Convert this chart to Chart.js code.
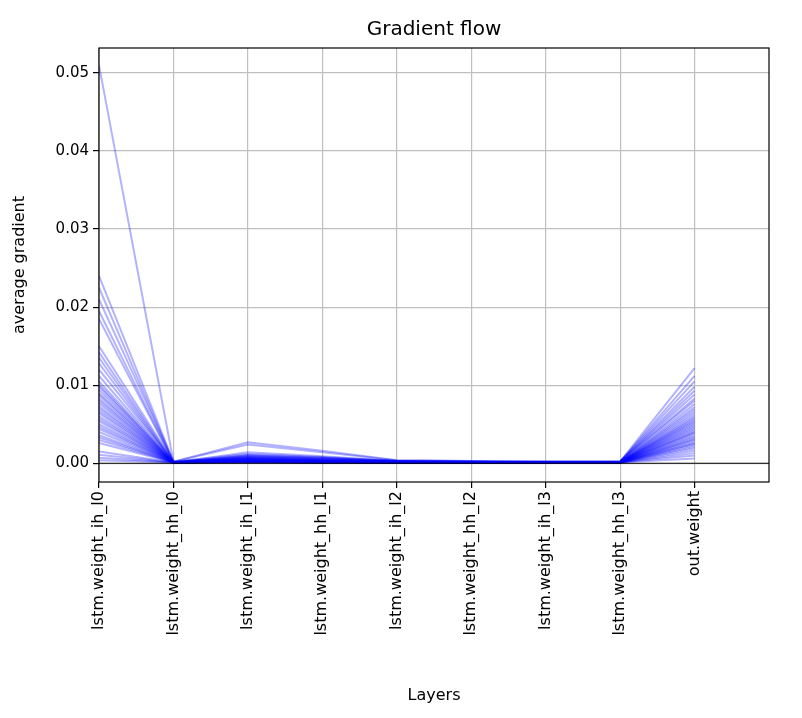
<!DOCTYPE html>
<html><head><meta charset="utf-8">
<script src="https://cdn.jsdelivr.net/npm/chart.js@4/dist/chart.umd.min.js"></script>
<style>html,body{margin:0;padding:0;background:#fff}#wrap{width:802px;height:718px}</style>
</head><body><div id="wrap"><canvas id="c"></canvas></div>
<script>
const layers = ["lstm.weight_ih_l0","lstm.weight_hh_l0","lstm.weight_ih_l1","lstm.weight_hh_l1","lstm.weight_ih_l2","lstm.weight_hh_l2","lstm.weight_ih_l3","lstm.weight_hh_l3","out.weight"];
const yTicks = [0.00,0.01,0.02,0.03,0.04,0.05];
const gIhL0 = [0.051,0.024,0.0225,0.021,0.0195,0.0185,0.015,0.0142,0.0135,0.0128,0.012,0.0112,0.0105,0.0101,0.0098,0.0094,0.009,0.0087,0.0083,0.008,0.0077,0.0073,0.007,0.0067,0.0064,0.006,0.0057,0.0054,0.005,0.0047,0.0044,0.004,0.0036,0.0033,0.003,0.0026,0.0015,0.0011,0.0007,0.0004];
const gHhL0 = [0.0002,0.0002,0.0001,0.0002,0.0001,0.0001,0.0002,0.0001,0.0001,0.0001,0.0002,0.0001,0.0001,0.0001,0.0001,0.0001,0.0001,0.0001,0.0001,0.0001,0.0001,0.0001,0.0001,0.0001,0.0001,0.0001,0.0001,0.0001,0.0001,0.0001,0.0001,0.0001,0.0001,0.0001,0.0001,0.0001,0.0001,0.0001,0.0001,0.0001];
const gIhL1 = [0.0027,0.0024,0.0014,0.0012,0.0011,0.001,0.0009,0.0009,0.0008,0.0008,0.0007,0.0007,0.0006,0.0006,0.0006,0.0005,0.0005,0.0005,0.0005,0.0004,0.0004,0.0004,0.0004,0.0004,0.0003,0.0003,0.0003,0.0003,0.0003,0.0003,0.0002,0.0002,0.0002,0.0002,0.0002,0.0002,0.0002,0.0001,0.0001,0.0001];
const gHhL1 = [0.0016,0.0014,0.0009,0.0008,0.0007,0.0007,0.0006,0.0006,0.0005,0.0005,0.0005,0.0004,0.0004,0.0004,0.0004,0.0003,0.0003,0.0003,0.0003,0.0003,0.0003,0.0003,0.0002,0.0002,0.0002,0.0002,0.0002,0.0002,0.0002,0.0002,0.0002,0.0001,0.0001,0.0001,0.0001,0.0001,0.0001,0.0001,0.0001,0.0001];
const gIhL2 = [0.0004,0.0004,0.0003,0.0003,0.0003,0.0003,0.0003,0.0002,0.0002,0.0002,0.0002,0.0002,0.0002,0.0002,0.0002,0.0002,0.0002,0.0002,0.0002,0.0001,0.0001,0.0001,0.0001,0.0001,0.0001,0.0001,0.0001,0.0001,0.0001,0.0001,0.0001,0.0001,0.0001,0.0001,0.0001,0.0001,0.0001,0.0001,0.0001,0.0001];
const gHhL2 = [0.0003,0.0003,0.0002,0.0002,0.0002,0.0002,0.0002,0.0002,0.0002,0.0002,0.0001,0.0001,0.0001,0.0001,0.0001,0.0001,0.0001,0.0001,0.0001,0.0001,0.0001,0.0001,0.0001,0.0001,0.0001,0.0001,0.0001,0.0001,0.0001,0.0001,0.0001,0.0001,0.0001,0.0001,0.0001,0.0001,0.0001,0.0001,0.0001,0.0001];
const gIhL3 = [0.0002,0.0002,0.0002,0.0002,0.0002,0.0002,0.0001,0.0001,0.0001,0.0001,0.0001,0.0001,0.0001,0.0001,0.0001,0.0001,0.0001,0.0001,0.0001,0.0001,0.0001,0.0001,0.0001,0.0001,0.0001,0.0001,0.0001,0.0001,0.0001,0.0001,0.0001,0.0001,0.0001,0.0001,0.0001,0.0001,0.0001,0.0001,0.0001,0.0001];
const gHhL3 = [0.0002,0.0002,0.0002,0.0002,0.0002,0.0002,0.0002,0.0002,0.0001,0.0001,0.0001,0.0001,0.0001,0.0001,0.0001,0.0001,0.0001,0.0001,0.0001,0.0001,0.0001,0.0001,0.0001,0.0001,0.0001,0.0001,0.0001,0.0001,0.0001,0.0001,0.0001,0.0001,0.0001,0.0001,0.0001,0.0001,0.0001,0.0001,0.0001,0.0001];
const gOut = [0.0088,0.0122,0.0112,0.0105,0.0098,0.0093,0.0083,0.008,0.0076,0.0072,0.0069,0.0066,0.0063,0.006,0.0058,0.0056,0.0054,0.0052,0.005,0.0048,0.0046,0.0044,0.0042,0.004,0.0039,0.0037,0.0035,0.0033,0.0031,0.003,0.0028,0.0026,0.0025,0.0023,0.0021,0.0019,0.0016,0.0013,0.001,0.0006];
const series = [gIhL0,gHhL0,gIhL1,gHhL1,gIhL2,gHhL2,gIhL3,gHhL3,gOut];

const datasets = gIhL0.map((_, k) => ({
  data: series.map((arr, i) => ({x: i, y: arr[k]})),
  borderColor: 'rgba(0,0,255,0.3)', borderWidth: 2, pointRadius: 0, tension: 0, fill: false
}));

const frame = {
  id: 'frame',
  afterDatasetsDraw(chart) {
    const {ctx, chartArea: a, scales} = chart;
    ctx.save();
    const y0 = scales.y.getPixelForValue(0);
    ctx.strokeStyle = '#000'; ctx.lineWidth = 1.2;
    ctx.beginPath(); ctx.moveTo(a.left, y0); ctx.lineTo(a.right, y0); ctx.stroke();
    ctx.strokeRect(a.left, a.top, a.right - a.left, a.bottom - a.top);
    ctx.fillStyle = '#000'; ctx.textAlign = 'center'; ctx.textBaseline = 'alphabetic';
    ctx.font = '20px "DejaVu Sans"';
    ctx.fillText('Gradient flow', (a.left + a.right) / 2, 35);
    ctx.font = '16px "DejaVu Sans"';
    ctx.fillText('Layers', (a.left + a.right) / 2, 700);
    ctx.translate(24, (a.top + a.bottom) / 2);
    ctx.rotate(-Math.PI / 2);
    ctx.fillText('average gradient', 0, 0);
    ctx.restore();
  }
};

new Chart(document.getElementById('c'), {
  type: 'line',
  data: {datasets},
  plugins: [frame],
  options: {
    responsive: true, maintainAspectRatio: false, animation: false,
    layout: {padding: {top: 48, right: 33, left: 0, bottom: 0}},
    plugins: {legend: {display: false}, tooltip: {enabled: false}},
    scales: {
      x: {
        type: 'linear', min: 0, max: 9,
        afterBuildTicks: s => { s.ticks = layers.map((_, i) => ({value: i})); },
        afterFit: s => { s.height = 718 - 482; },
        ticks: {autoSkip: false, maxRotation: 90, minRotation: 90, color: '#000',
          font: {family: 'DejaVu Sans', size: 16}, callback: v => layers[v] ?? ''},
        grid: {color: '#bfbfbf', lineWidth: 1.2, tickLength: 6, tickColor: '#000'},
        border: {display: false}
      },
      y: {
        min: -0.0024, max: 0.0532,
        afterBuildTicks: s => { s.ticks = yTicks.map(v => ({value: v})); },
        afterFit: s => { s.width = 99; },
        ticks: {color: '#000', font: {family: 'DejaVu Sans', size: 15}, callback: v => v.toFixed(2), padding: 4},
        grid: {color: '#bfbfbf', lineWidth: 1.2, tickLength: 6, tickColor: '#000'},
        border: {display: false}
      }
    }
  }
});
</script></body></html>
